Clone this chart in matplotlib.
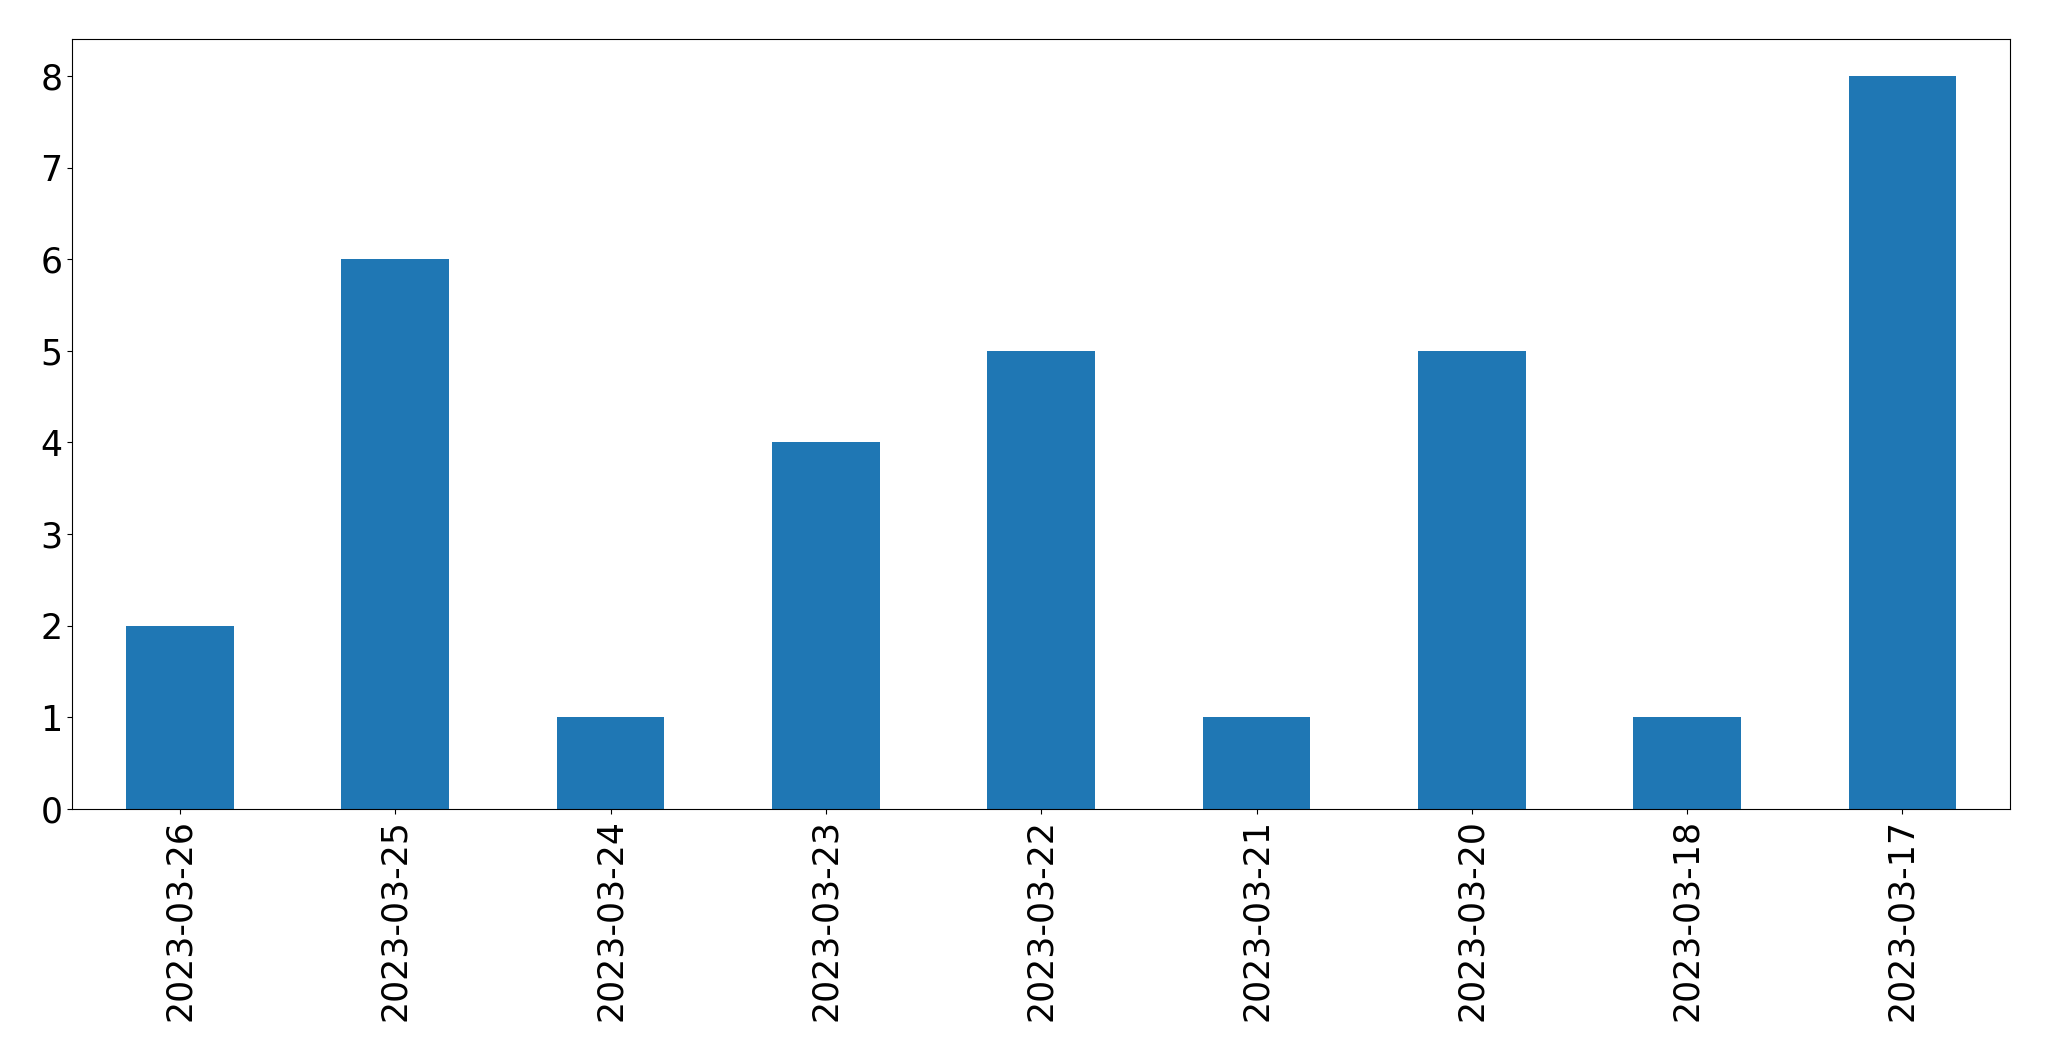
import pandas as pd
import matplotlib.pyplot as plt

fechas = ['2023-03-26', '2023-03-25', '2023-03-24', '2023-03-23', '2023-03-22',
          '2023-03-21', '2023-03-20', '2023-03-18', '2023-03-17']
cantidades = [2, 6, 1, 4, 5, 1, 5, 1, 8]

serie = pd.Series(cantidades, index=fechas)

fig, ax = plt.subplots(figsize=(20.49, 10.61), dpi=100)
serie.plot(kind='bar', color='#1f77b4', ax=ax, fontsize=25)

plt.subplots_adjust(left=0.0353, right=0.981, top=0.963, bottom=0.2375)
plt.savefig('out.png', dpi=100)
